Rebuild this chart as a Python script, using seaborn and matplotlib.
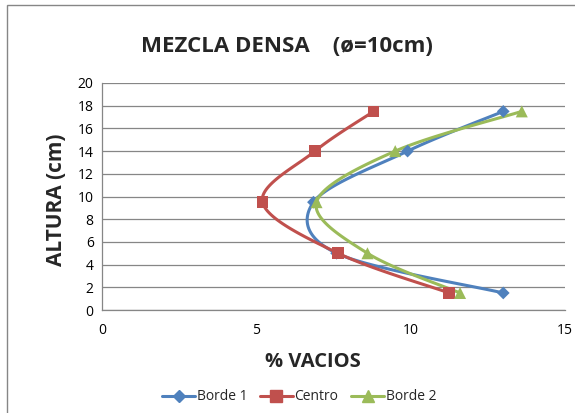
import numpy as np
import pandas as pd
import matplotlib
matplotlib.use("Agg")
import matplotlib.pyplot as plt
import seaborn as sns
from matplotlib.lines import Line2D
from matplotlib.patches import Rectangle

# ---- data ----
alturas = [1.5, 5.0, 9.5, 14.0, 17.5]
borde1 = [13.0, 7.6, 6.85, 9.9, 13.0]
centro = [11.25, 7.65, 5.2, 6.9, 8.8]
borde2 = [11.6, 8.6, 6.95, 9.5, 13.6]
series_names = ["Borde 1", "Centro", "Borde 2"]
colors = ["#4F81BD", "#C0504D", "#9BBB59"]
markers = ["D", "s", "^"]
msizes = [42, 70, 75]
x_ticks = [0, 5, 10, 15]
y_ticks = list(range(0, 21, 2))

rows = []
for name, vals in zip(series_names, [borde1, centro, borde2]):
    for v, h in zip(vals, alturas):
        rows.append({"serie": name, "vacios": v, "altura": h})
df = pd.DataFrame(rows)

sns.set_theme(style="white")
plt.rcParams["font.family"] = ["Open Sans", "DejaVu Sans"]

W, H = 575, 413
fig = plt.figure(figsize=(W / 100, H / 100), dpi=100)
left, right, top, bottom = 102, 565, 83, 310
ax = fig.add_axes([left / W, 1 - bottom / H, (right - left) / W, (bottom - top) / H])

# outer chart border
fig.patches.append(Rectangle((7 / W, -0.01), 1.02, 1 - 5 / H + 0.01, transform=fig.transFigure,
                             fill=False, edgecolor="#868686", linewidth=1.0))


def catmull(xs, ys, n=30):
    P = np.column_stack([xs, ys]).astype(float)
    P = np.vstack([P[0], P, P[-1]])
    out = []
    for i in range(1, len(P) - 2):
        p0, p1, p2, p3 = P[i - 1], P[i], P[i + 1], P[i + 2]
        c1 = p1 + (p2 - p0) / 6
        c2 = p2 - (p3 - p1) / 6
        t = np.linspace(0, 1, n)[:, None]
        seg = ((1 - t) ** 3) * p1 + 3 * ((1 - t) ** 2) * t * c1 + 3 * (1 - t) * t ** 2 * c2 + t ** 3 * p2
        out.append(seg)
    out = np.vstack(out)
    return out[:, 0], out[:, 1]


sx = (right - left) / 15.0
sy = (bottom - top) / 20.0
for name, c in zip(series_names, colors):
    d = df[df.serie == name]
    cx, cy = catmull(d.vacios.values * sx, d.altura.values * sy)
    ax.plot(cx / sx, cy / sy, color=c, linewidth=2.2, zorder=3, solid_capstyle="round")

sns.scatterplot(data=df, x="vacios", y="altura", hue="serie", style="serie",
                palette=dict(zip(series_names, colors)),
                markers=dict(zip(series_names, markers)),
                size="serie", sizes=dict(zip(series_names, msizes)),
                edgecolor="none", linewidth=0, ax=ax, legend=False, zorder=4)

ax.set_xlim(0, 15)
ax.set_ylim(0, 20)
ax.set_xticks(x_ticks)
ax.set_yticks(y_ticks)
ax.set_xticklabels([str(v) for v in x_ticks])
ax.set_yticklabels([str(v) for v in y_ticks])
ax.yaxis.grid(True, color="#868686", linewidth=0.9)
ax.xaxis.grid(False)
for s in ["top", "right"]:
    ax.spines[s].set_visible(False)
for s in ["left", "bottom"]:
    ax.spines[s].set_color("#868686")
    ax.spines[s].set_linewidth(0.9)
ax.tick_params(axis="both", labelsize=10, colors="#000000", length=0, pad=6)
ax.tick_params(axis="x", pad=9)
ax.set_xlabel("")
ax.set_ylabel("")

fig.text(287 / W, 1 - 46 / H, "MEZCLA DENSA    (ø=10cm)", ha="center", va="center",
         fontsize=16, fontweight="bold")
fig.text(313 / W, 1 - 362 / H, "% VACIOS", ha="center", va="center",
         fontsize=14.5, fontweight="bold")
fig.text(57 / W, 1 - 200 / H, "ALTURA (cm)", ha="center", va="center",
         fontsize=15, fontweight="bold", rotation=90)

handles = [Line2D([0], [0], color=c, marker=m, markersize=ms, linewidth=2.2)
           for c, m, ms in zip(colors, markers, [6, 8, 8])]
fig.legend(handles, series_names, loc="center", bbox_to_anchor=(299 / W, 1 - 397 / H),
           ncol=3, frameon=False, fontsize=10, handlelength=2.4, handletextpad=0.1,
           columnspacing=0.9)

fig.savefig("out.png", dpi=100)
